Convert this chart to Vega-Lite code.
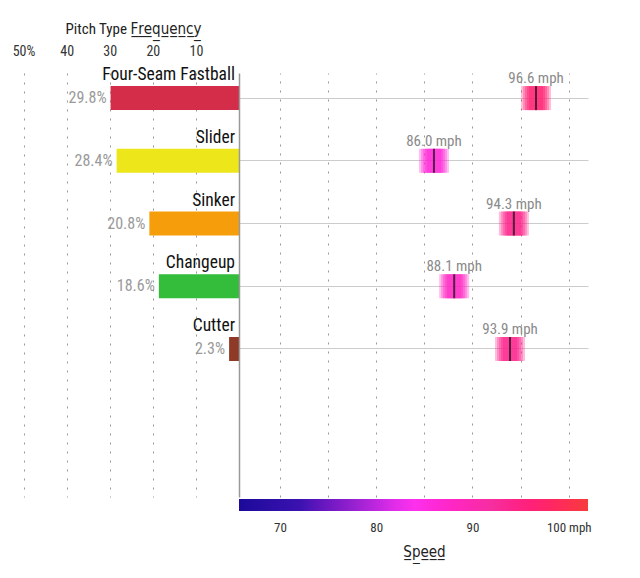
{
  "$schema": "https://vega.github.io/schema/vega-lite/v6.json",
  "padding": {"left": 2, "top": 21, "right": 5, "bottom": 5},
  "config": {
    "font": "Roboto Condensed, Liberation Sans Narrow, DejaVu Sans Condensed, Roboto",
    "view": {"stroke": null},
    "axis": {"labelColor": "#333", "labelFontSize": 13, "titleColor": "#222", "titleFontWeight": "normal", "titleFontSize": 15}
  },
  "data": {"values": [
    {"pitch": "Four-Seam Fastball", "freq": 29.8, "speed": 96.6},
    {"pitch": "Slider", "freq": 28.4, "speed": 86.0},
    {"pitch": "Sinker", "freq": 20.8, "speed": 94.3},
    {"pitch": "Changeup", "freq": 18.6, "speed": 88.1},
    {"pitch": "Cutter", "freq": 2.3, "speed": 93.9}
  ]},
  "spacing": 0,
  "resolve": {"scale": {"color": "independent", "x": "independent"}, "legend": {"color": "independent"}},
  "hconcat": [
    {
      "width": 237,
      "height": 424,
      "encoding": {
        "y": {"field": "pitch", "type": "nominal", "sort": null,
              "scale": {"domain": ["Four-Seam Fastball", "Slider", "Sinker", "Changeup", "Cutter"], "paddingInner": 0.2, "paddingOuter": 0.98, "align": 0},
              "axis": null}
      },
      "layer": [
        {
          "mark": {"type": "bar", "height": 24},
          "encoding": {
            "x": {"field": "freq", "type": "quantitative",
                  "scale": {"domain": [0, 55], "reverse": true, "nice": false, "zero": true},
                  "axis": {"orient": "top", "values": [10, 20, 30, 40, 50],
                           "labelExpr": "datum.value == 50 ? '50%' : datum.value",
                           "domain": false, "ticks": false, "labelPadding": 15, "labelFontSize": 14,
                           "grid": true, "gridDash": [2, 7], "gridColor": "#999", "gridWidth": 1,
                           "title": "Pitch Type F̲r̲e̲q̲u̲e̲n̲c̲y̲", "titleX": 131, "titleY": -40, "titleBaseline": "alphabetic", "titleAngle": 0}},
            "color": {"field": "pitch", "type": "nominal", "legend": null,
                      "scale": {"domain": ["Four-Seam Fastball", "Slider", "Sinker", "Changeup", "Cutter"],
                                "range": ["#d42d4a", "#ede61a", "#f59d0a", "#33bd3b", "#8f3a26"]}}
          }
        },
        {
          "mark": {"type": "text", "align": "right", "baseline": "middle", "dx": -4, "fontSize": 16, "color": "#9a9a9a",
                   "text": {"expr": "format(datum.freq, '.1f') + '%'"}},
          "encoding": {"x": {"field": "freq", "type": "quantitative"}}
        },
        {
          "mark": {"type": "text", "align": "right", "baseline": "middle", "dx": -4, "dy": -23, "fontSize": 17.5, "color": "#111"},
          "encoding": {"x": {"datum": 0}, "text": {"field": "pitch"}}
        }
      ]
    },
    {
      "width": 349,
      "height": 424,
      "encoding": {
        "y": {"field": "pitch", "type": "nominal", "sort": null,
              "scale": {"domain": ["Four-Seam Fastball", "Slider", "Sinker", "Changeup", "Cutter"], "paddingInner": 0.2, "paddingOuter": 0.98, "align": 0},
              "axis": {"labels": false, "ticks": false, "title": null, "domain": true, "domainColor": "#999", "domainWidth": 1.5,
                       "grid": true, "gridColor": "#ccc", "gridWidth": 1, "bandPosition": 0.5}},
        "x": {"field": "speed", "type": "quantitative",
              "scale": {"domain": [65.75, 102], "nice": false, "zero": false},
              "axis": {"orient": "bottom", "values": [70, 75, 80, 85, 90, 95, 100],
                       "labelExpr": "datum.value % 10 == 0 ? (datum.value == 100 ? '100 mph' : datum.value) : ''",
                       "domain": false, "ticks": false, "labelPadding": 24,
                       "grid": true, "gridDash": [2, 7], "gridColor": "#999", "gridWidth": 1,
                       "title": "S̲p̲e̲e̲d̲", "titlePadding": 10, "titleX": 185}}
      },
      "layer": [
        {
          "mark": {"type": "tick", "orient": "vertical", "thickness": 30, "size": 24, "fillOpacity": 0.3},
          "encoding": {"color": {"field": "speed", "type": "quantitative",
                        "scale": {"domain": [65.75, 72, 78, 83.5, 92, 102], "range": ["#1a0a9a", "#3a12b0", "#9c22d2", "#fc32f2", "#f62ea0", "#f73c3c"]},
                        "legend": {"orient": "none", "direction": "horizontal", "gradientLength": 349, "gradientThickness": 12,
                                   "gradientStrokeWidth": 0, "labelOpacity": 0, "labelFontSize": 1, "title": null, "legendX": 0, "legendY": 426}}}
        },
        {
          "mark": {"type": "tick", "orient": "vertical", "thickness": 26, "size": 24, "fillOpacity": 0.3},
          "encoding": {"color": {"field": "speed", "type": "quantitative"}}
        },
        {
          "mark": {"type": "tick", "orient": "vertical", "thickness": 22, "size": 24, "fillOpacity": 0.35},
          "encoding": {"color": {"field": "speed", "type": "quantitative"}}
        },
        {
          "mark": {"type": "tick", "orient": "vertical", "thickness": 18, "size": 24, "fillOpacity": 0.4},
          "encoding": {"color": {"field": "speed", "type": "quantitative"}}
        },
        {
          "mark": {"type": "tick", "orient": "vertical", "thickness": 14, "size": 24, "fillOpacity": 0.45},
          "encoding": {"color": {"field": "speed", "type": "quantitative"}}
        },
        {
          "mark": {"type": "tick", "orient": "vertical", "thickness": 2, "size": 24, "color": "#111"},
          "encoding": {}
        },
        {
          "mark": {"type": "text", "align": "center", "baseline": "middle", "dy": -20, "fontSize": 15, "color": "#8a8a8a",
                   "text": {"expr": "format(datum.speed, '.1f') + ' mph'"}},
          "encoding": {}
        }
      ]
    }
  ]
}
